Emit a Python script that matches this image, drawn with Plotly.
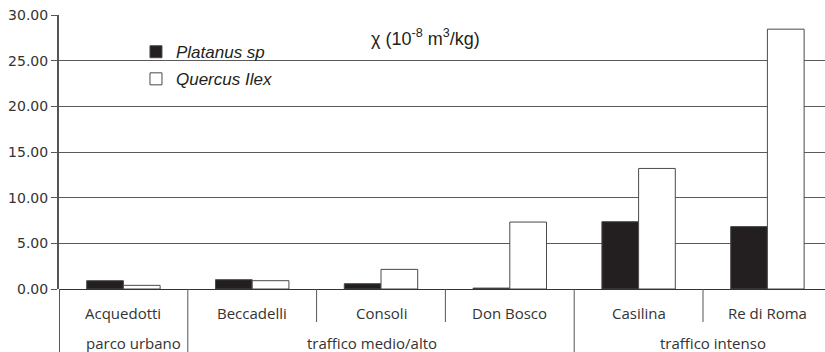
import plotly.graph_objects as go

categories = ["Acquedotti", "Beccadelli", "Consoli", "Don Bosco", "Casilina", "Re di Roma"]
groups = ["parco urbano", "traffico medio/alto", "traffico medio/alto",
          "traffico medio/alto", "traffico intenso", "traffico intenso"]
platanus = [0.91, 1.02, 0.58, 0.10, 7.37, 6.83]
quercus = [0.40, 0.91, 2.15, 7.33, 13.20, 28.45]
y_ticks = [0, 5, 10, 15, 20, 25, 30]
y_tick_labels = ["0.00", "5.00", "10.00", "15.00", "20.00", "25.00", "30.00"]
series_names = ["Platanus sp", "Quercus Ilex"]

W, H = 825, 352
ML, MT, MB = 59, 15, 63
AX = "#555555"

x_idx = list(range(len(categories)))

fig = go.Figure()
fig.add_trace(go.Bar(
    x=x_idx, y=platanus, name=series_names[0], legendgroup="a",
    marker=dict(color="#231f20", line=dict(color="#4a4a4a", width=1)),
))
fig.add_trace(go.Bar(
    x=x_idx, y=quercus, name=series_names[1], legendgroup="b",
    marker=dict(color="#ffffff", line=dict(color="#4a4a4a", width=1)),
))

plot_w = W - ML
unit = 128.8
x_max = -0.5 + plot_w / unit

fig.update_layout(
    width=W, height=H,
    margin=dict(l=ML, r=0, t=MT, b=MB, autoexpand=False),
    paper_bgcolor="white", plot_bgcolor="white",
    barmode="group", bargap=0.43, bargroupgap=0,
    showlegend=True,
    legend=dict(
        x=0.1005, y=0.93, xanchor="left", yanchor="top",
        font=dict(family="Liberation Sans", size=17, style="italic", color="#231f20"),
        bgcolor="rgba(0,0,0,0)", tracegroupgap=2, traceorder="grouped",
        itemclick=False,
    ),
    xaxis=dict(
        range=[-0.5, x_max], showticklabels=False, showgrid=False,
        zeroline=False, showline=False, ticks="", fixedrange=True,
        automargin=False,
    ),
    yaxis=dict(
        range=[0, 30], tickvals=y_ticks, ticktext=y_tick_labels,
        showgrid=True, gridcolor="#5a5a5a", gridwidth=1,
        zeroline=True, zerolinecolor="#333333", zerolinewidth=1,
        showline=True, linecolor=AX, linewidth=2,
        ticks="outside", ticklen=6, tickcolor=AX, tickwidth=1,
        tickfont=dict(family="DejaVu Sans", size=14, color="#333333"),
        fixedrange=True, automargin=False,
    ),
)

# title annotation
fig.add_annotation(
    xref="paper", yref="paper", x=(369 - ML) / plot_w, y=(289 - 37) / (289 - MT),
    xanchor="left", yanchor="middle", showarrow=False,
    text="χ (10<sup>-8</sup> m<sup>3</sup>/kg)",
    font=dict(family="Liberation Sans", size=18, color="#231f20"),
)

ph = 289 - MT
row1_y = -(313 - 289) / ph
row2_y = -(343 - 289) / ph
short_bottom = -(322 - 289) / ph
full_bottom = -(H - 289) / ph

# category labels
for i, c in enumerate(categories):
    fig.add_annotation(
        xref="x", yref="paper", x=i, y=row1_y, text=c, showarrow=False,
        xanchor="center", yanchor="middle",
        font=dict(family="Open Sans", size=15, color="#333333"),
    )

# separators between categories
for i in range(1, len(categories)):
    full = groups[i] != groups[i - 1]
    fig.add_shape(
        type="line", xref="x", yref="paper", x0=i - 0.5, x1=i - 0.5,
        y0=0, y1=full_bottom if full else short_bottom,
        line=dict(color=AX, width=1),
    )
# left axis extension
fig.add_shape(
    type="line", xref="x", yref="paper", x0=-0.5, x1=-0.5,
    y0=0, y1=full_bottom, line=dict(color=AX, width=2),
)

# group labels
uniq = []
for g in groups:
    if g not in uniq:
        uniq.append(g)
shifts = [10, -9, 10]
for k, g in enumerate(uniq):
    idx = [i for i, gg in enumerate(groups) if gg == g]
    cx = (idx[0] + idx[-1]) / 2
    fig.add_annotation(
        xref="x", yref="paper", x=cx, y=row2_y, text=g, showarrow=False,
        xanchor="center", yanchor="middle", xshift=shifts[k],
        font=dict(family="Open Sans", size=15, color="#333333"),
    )

fig.write_html(
    "out.html",
    config={"displayModeBar": False},
    post_script="document.body.style.margin='0';document.body.style.overflow='hidden';",
)
